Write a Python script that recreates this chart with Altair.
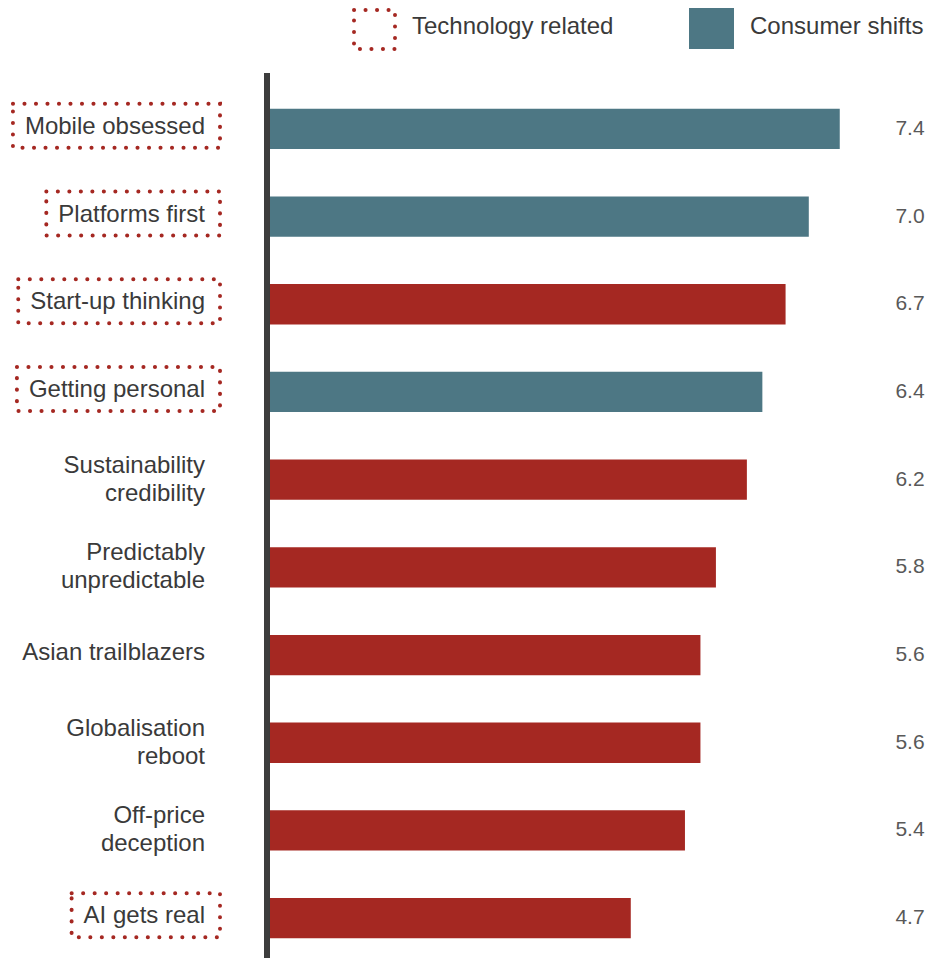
import altair as alt
import pandas as pd

labels = ["Mobile obsessed", "Platforms first", "Start-up thinking", "Getting personal",
          "Sustainability\ncredibility", "Predictably\nunpredictable", "Asian trailblazers",
          "Globalisation\nreboot", "Off-price\ndeception", "AI gets real"]
values = [7.4, 7.0, 6.7, 6.4, 6.2, 5.8, 5.6, 5.6, 5.4, 4.7]
group = ["Consumer shifts", "Consumer shifts", "Other", "Consumer shifts", "Other",
         "Other", "Other", "Other", "Other", "Other"]
tech = [True, True, True, True, False, False, False, False, False, True]

FONT = "Liberation Sans"
FS = 24
TEAL = "#4d7784"
RED = "#a52822"
TXT = "#3a3a3a"

# Arial / Liberation Sans advance widths (per 1000 em) to size the dotted boxes
W = dict(zip("abcdefghijklmnopqrstuvwxyz",
             [556, 556, 500, 556, 556, 278, 556, 556, 222, 222, 500, 222, 833, 556, 556,
              556, 556, 333, 500, 278, 556, 500, 722, 500, 500, 500]))
W.update(dict(zip("ABCDEFGHIJKLMNOPQRSTUVWXYZ",
                  [667, 667, 722, 722, 667, 611, 778, 722, 278, 500, 667, 556, 833, 722,
                   778, 667, 778, 722, 667, 611, 722, 667, 944, 667, 667, 611])))
W.update({" ": 278, "-": 333})


def text_w(s):
    return max(sum(W.get(c, 556) for c in line) for line in s.split("\n")) * FS / 1000


LABEL_RIGHT = 197
df = pd.DataFrame({"label": labels, "value": values, "group": group, "tech": tech})
df["box_x"] = [LABEL_RIGHT - text_w(s) - 12 for s in labels]
df["box_x2"] = LABEL_RIGHT + 15
df["vtext"] = [f"{v:.1f}" for v in values]
df["multi"] = ["\n" in s for s in labels]

yscale = alt.Scale(domain=labels, range=[77, 954], paddingInner=0.54, paddingOuter=0.27)
ycode = alt.Y("label:N", scale=yscale, axis=None, sort=labels)
xscale = alt.Scale(domain=[0, 8.5], range=[259, 259 + 8.5 * 77.4])

base = alt.Chart(df)

bars = base.mark_bar().encode(
    x=alt.X("value:Q", scale=xscale, axis=None),
    y=ycode,
    color=alt.Color("group:N", scale=alt.Scale(domain=["Consumer shifts", "Other"],
                                                range=[TEAL, RED]), legend=None),
)

vals = base.mark_text(font=FONT, fontSize=21, color="#595959", align="center",
                      baseline="middle").encode(
    x=alt.value(902), y=ycode, text="vtext:N")

lab_style = dict(font=FONT, fontSize=FS, color=TXT, align="right", baseline="middle",
                 lineBreak="\n", lineHeight=28)
lab1 = base.transform_filter("!datum.multi").mark_text(dy=-2, **lab_style).encode(
    x=alt.value(LABEL_RIGHT), y=ycode, text="label:N")
lab2 = base.transform_filter("datum.multi").mark_text(dy=-14, **lab_style).encode(
    x=alt.value(LABEL_RIGHT), y=ycode, text="label:N")

dotted = dict(filled=False, stroke=RED, strokeWidth=4, strokeCap="round",
              strokeDash=[0.1, 11.4])
boxes = base.transform_filter("datum.tech").mark_bar(height=44, yOffset=-3, **dotted).encode(
    x=alt.X("box_x:Q", scale=None), x2="box_x2:Q", y=ycode)

axis_line = base.mark_rule(color="#3d3d3d", strokeWidth=5).encode(
    x=alt.value(259), y=alt.value(65), y2=alt.value(950))

leg = pd.DataFrame({"name": ["Technology related", "Consumer shifts"]})
lb = alt.Chart(leg)
leg_box1 = lb.transform_filter("datum.name == 'Technology related'").mark_rect(**dotted).encode(
    x=alt.value(346), x2=alt.value(387), y=alt.value(2), y2=alt.value(41))
leg_box2 = lb.transform_filter("datum.name == 'Consumer shifts'").mark_rect(color=TEAL).encode(
    x=alt.value(681), x2=alt.value(726), y=alt.value(0), y2=alt.value(41))
leg_txt1 = lb.transform_filter("datum.name == 'Technology related'").mark_text(
    font=FONT, fontSize=24, color=TXT, align="left", baseline="middle").encode(
    x=alt.value(404), y=alt.value(19), text="name:N")
leg_txt2 = lb.transform_filter("datum.name == 'Consumer shifts'").mark_text(
    font=FONT, fontSize=24, color=TXT, align="left", baseline="middle").encode(
    x=alt.value(742), y=alt.value(19), text="name:N")

chart = alt.layer(bars, vals, lab1, lab2, boxes, axis_line, leg_box1, leg_box2, leg_txt1,
                  leg_txt2).properties(
    width=919, height=950, autosize=alt.AutoSizeParams(type="none"), padding=0
).configure_view(stroke=None)

chart.save("out.html", embed_options={"renderer": "svg", "actions": False})
